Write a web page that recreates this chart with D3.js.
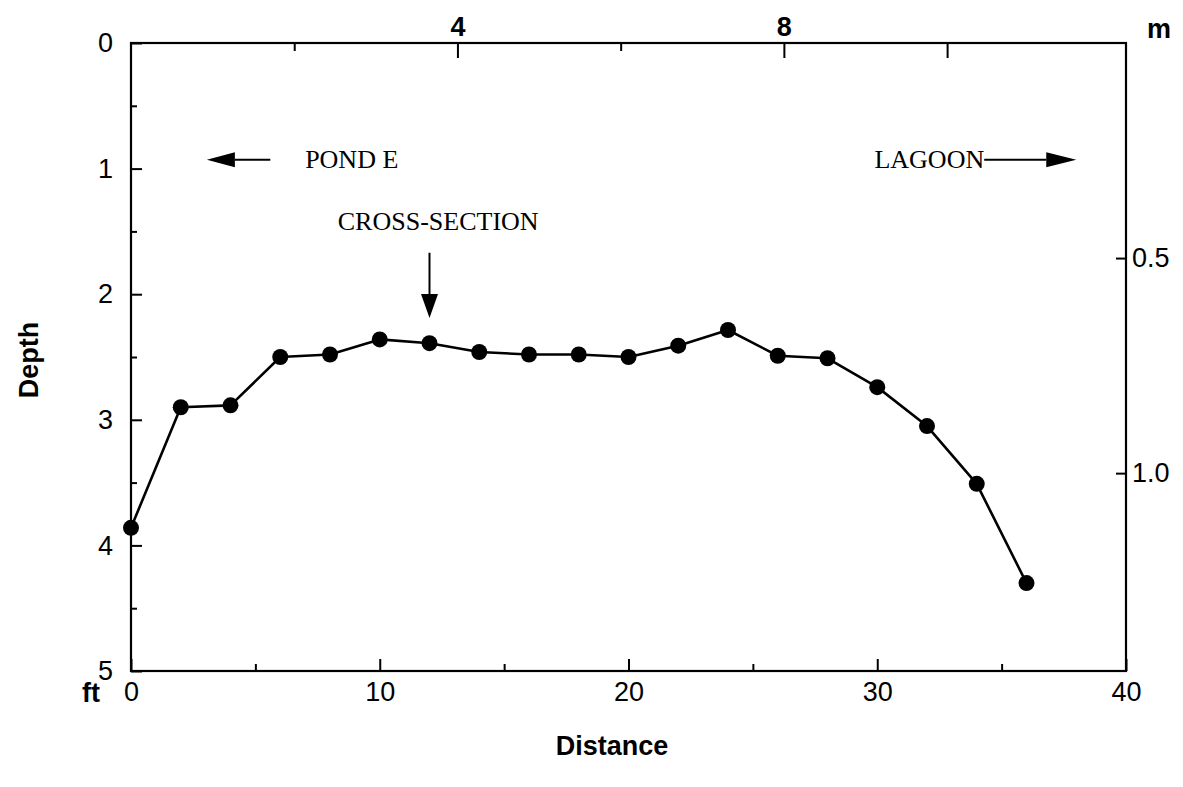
<!DOCTYPE html>
<html>
<head>
<meta charset="utf-8">
<script src="https://cdn.jsdelivr.net/npm/d3@7"></script>
<style>
  body { margin: 0; background: #fff; }
  svg text { fill: #000; }
</style>
</head>
<body>
<svg id="chart" width="1183" height="787"></svg>
<script>
// Survey profile: depth (ft) along the transect distance (ft)
const distanceFt = [0, 2, 4, 6, 8, 10, 12, 14, 16, 18, 20, 22, 24, 26, 28, 30, 32, 34, 36];
const depthFt    = [3.86, 2.90, 2.885, 2.50, 2.48, 2.36, 2.39, 2.46, 2.48, 2.48, 2.50, 2.41, 2.285, 2.49, 2.51, 2.74, 3.05, 3.51, 4.30];

// Axis ticks (feet on bottom/left, metres on top/right)
const distMajorTicks = [0, 10, 20, 30, 40];
const distMinorTicks = [5, 15, 25, 35];
const depthMajorTicks = [0, 1, 2, 3, 4, 5];
const depthMinorTicks = [0.5, 1.5, 2.5, 3.5, 4.5];
const topMeterLongTicks = [4, 8, 10];
const topMeterShortTicks = [2, 6];
const topMeterLabels = [4, 8];
const rightMeterTicks = [0.5, 1.0];

const FT_PER_M = 3.2808;
const RIGHT_AXIS_MAX_M = 1.46;   // metre depth at the bottom edge of the printed right scale

const margin = { left: 131, top: 43, right: 57, bottom: 116 };
const W = 1183, H = 787;
const innerW = W - margin.left - margin.right;
const innerH = H - margin.top - margin.bottom;

const svg = d3.select("#chart");
const g = svg.append("g").attr("transform", `translate(${margin.left},${margin.top})`);

const x = d3.scaleLinear().domain([0, 40]).range([0, innerW]);
const y = d3.scaleLinear().domain([0, 5]).range([0, innerH]);
const xm = d3.scaleLinear().domain([0, 40 / FT_PER_M]).range([0, innerW]);
const ym = d3.scaleLinear().domain([0, RIGHT_AXIS_MAX_M]).range([0, innerH]);

const sans = "Arial, 'Liberation Sans', Helvetica, sans-serif";
const serif = "'Times New Roman', 'Liberation Serif', Times, serif";
const TICK_FONT = 27;
const TITLE_FONT = 27;

function styleAxis(sel, size, weight) {
  sel.select(".domain").remove();
  sel.selectAll(".tick line").attr("stroke", "#000").attr("stroke-width", 2);
  sel.selectAll(".tick text")
    .attr("font-family", sans)
    .attr("font-size", size)
    .attr("font-weight", weight || "normal")
    .attr("fill", "#000");
}

// Bottom axis (ft), ticks pointing inward
g.append("g").attr("transform", `translate(0,${innerH})`)
  .call(d3.axisBottom(x).tickValues(distMajorTicks).tickSize(-12).tickPadding(11).tickFormat(d3.format("d")))
  .call(s => styleAxis(s, TICK_FONT));
g.append("g").attr("transform", `translate(0,${innerH})`)
  .call(d3.axisBottom(x).tickValues(distMinorTicks).tickSize(-7).tickFormat(""))
  .call(s => styleAxis(s, TICK_FONT));

// Left axis (ft)
g.append("g")
  .call(d3.axisLeft(y).tickValues(depthMajorTicks).tickSize(-11).tickPadding(18).tickFormat(d3.format("d")))
  .call(s => styleAxis(s, TICK_FONT));
g.append("g")
  .call(d3.axisLeft(y).tickValues(depthMinorTicks).tickSize(-6).tickFormat(""))
  .call(s => styleAxis(s, TICK_FONT));

// Top axis (m)
g.append("g")
  .call(d3.axisTop(xm).tickValues(topMeterLongTicks).tickSize(-15).tickPadding(7)
    .tickFormat(d => topMeterLabels.includes(d) ? d3.format("d")(d) : ""))
  .call(s => styleAxis(s, TICK_FONT, "bold"));
g.append("g")
  .call(d3.axisTop(xm).tickValues(topMeterShortTicks).tickSize(-8).tickFormat(""))
  .call(s => styleAxis(s, TICK_FONT));

// Right axis (m)
g.append("g").attr("transform", `translate(${innerW},0)`)
  .call(d3.axisRight(ym).tickValues(rightMeterTicks).tickSize(-10).tickPadding(6).tickFormat(d3.format(".1f")))
  .call(s => styleAxis(s, TICK_FONT));

// Plot frame
g.append("rect")
  .attr("x", 0).attr("y", 0).attr("width", innerW).attr("height", innerH)
  .attr("fill", "none").attr("stroke", "#000").attr("stroke-width", 2.2);

// Unit labels
svg.append("text").attr("x", 82).attr("y", margin.top + innerH + 31)
  .attr("font-family", sans).attr("font-size", TITLE_FONT).attr("font-weight", "bold").text("ft");
svg.append("text").attr("x", margin.left + innerW + 21).attr("y", 38)
  .attr("font-family", sans).attr("font-size", 27).attr("font-weight", "bold").text("m");

// Axis titles
svg.append("text")
  .attr("transform", `translate(38,${margin.top + innerH / 2 + 3}) rotate(-90)`)
  .attr("text-anchor", "middle")
  .attr("font-family", sans).attr("font-size", TITLE_FONT).attr("font-weight", "bold").text("Depth");
svg.append("text")
  .attr("x", 612).attr("y", 755)
  .attr("text-anchor", "middle")
  .attr("font-family", sans).attr("font-size", TITLE_FONT).attr("font-weight", "bold").text("Distance");

// Profile line and stations
const line = d3.line().x((d, i) => x(distanceFt[i])).y(d => y(d));
g.append("path").datum(depthFt)
  .attr("d", line).attr("fill", "none").attr("stroke", "#000").attr("stroke-width", 2.6)
  .attr("stroke-linejoin", "round");
g.selectAll("circle.station").data(depthFt).join("circle")
  .attr("class", "station")
  .attr("cx", (d, i) => x(distanceFt[i])).attr("cy", d => y(d))
  .attr("r", 8).attr("fill", "#000");

// Annotations
function arrow(x1, y1, x2, y2, headLen, headHalf) {
  const ang = Math.atan2(y2 - y1, x2 - x1);
  const bx = x2 - headLen * Math.cos(ang), by = y2 - headLen * Math.sin(ang);
  g.append("line").attr("x1", x1).attr("y1", y1).attr("x2", bx).attr("y2", by)
    .attr("stroke", "#000").attr("stroke-width", 2);
  const px = -Math.sin(ang) * headHalf, py = Math.cos(ang) * headHalf;
  g.append("path")
    .attr("d", `M${x2},${y2}L${bx + px},${by + py}L${bx - px},${by - py}Z`)
    .attr("fill", "#000");
}

// Pond E (towards the left)
arrow(x(5.6), y(0.93), x(3.05), y(0.93), 28, 7.5);
g.append("text").attr("x", x(7.0)).attr("y", y(0.93) + 8)
  .attr("font-family", serif).attr("font-size", 26).text("POND E");

// Lagoon (towards the right)
g.append("text").attr("x", x(34.3)).attr("y", y(0.93) + 8).attr("text-anchor", "end")
  .attr("font-family", serif).attr("font-size", 26).text("LAGOON");
arrow(x(34.3), y(0.93), x(38.0), y(0.93), 30, 7.5);

// Cross-section location
g.append("text").attr("x", x(12.35)).attr("y", y(1.49)).attr("text-anchor", "middle")
  .attr("font-family", serif).attr("font-size", 26).text("CROSS-SECTION");
arrow(x(12), y(1.67), x(12), y(2.19), 24, 8.5);
</script>
</body>
</html>
